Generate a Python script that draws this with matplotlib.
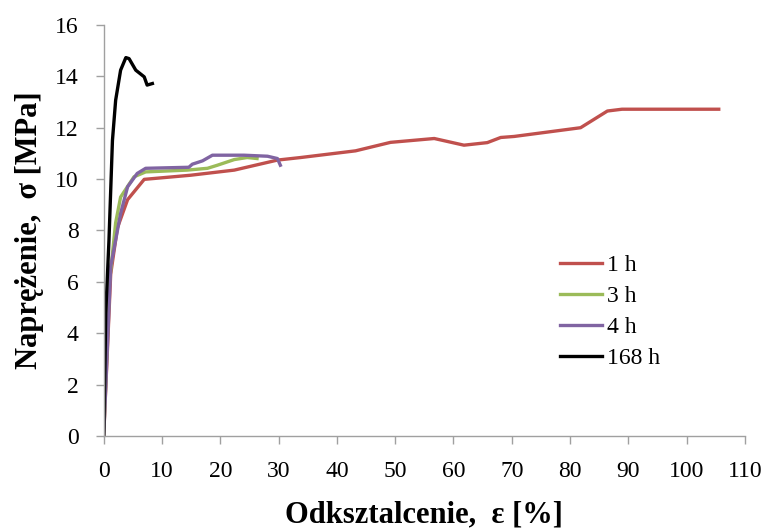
import matplotlib.pyplot as plt

# stress-strain curves for different conditioning times
strain_1h = [0, 1.2, 2.35, 4.1, 6.95, 14.9, 22.4, 29.8, 33.8, 43.2, 49.2, 56.7, 61.8, 65.8,
             68.1, 70.4, 81.8, 86.4, 88.9, 105.5]
stress_1h = [0, 6.3, 8.1, 9.2, 9.99, 10.15, 10.35, 10.74, 10.84, 11.1, 11.43, 11.58, 11.32,
             11.42, 11.62, 11.66, 12.0, 12.65, 12.72, 12.72]

strain_3h = [0, 1.0, 2.05, 2.9, 5.2, 7.2, 14.35, 17.8, 19.5, 22.4, 24.6, 26.3]
stress_3h = [0, 6.0, 8.3, 9.3, 10.09, 10.28, 10.35, 10.42, 10.54, 10.76, 10.84, 10.8]

strain_4h = [0, 1.2, 2.9, 4.1, 5.75, 7.2, 14.6, 15.2, 16.95, 18.65, 24.05, 28.1, 29.8, 30.3]
stress_4h = [0, 6.6, 8.66, 9.7, 10.22, 10.42, 10.46, 10.58, 10.71, 10.93, 10.93, 10.89, 10.8, 10.54]

strain_168h = [0, 0.05, 0.35, 0.9, 1.5, 2.05, 2.9, 3.8, 4.35, 5.5, 6.95, 7.45, 8.35]
stress_168h = [0, 0.36, 4.77, 7.6, 11.5, 13.07, 14.24, 14.73, 14.69, 14.24, 13.98, 13.66, 13.72]

plt.rcParams['font.family'] = ['Liberation Serif', 'DejaVu Serif']

fig = plt.figure(figsize=(7.67, 5.3), dpi=100)
ax = fig.add_axes([0.1352, 0.1774, 0.8361, 0.7755])

lw = 2.4
ax.plot(strain_1h, stress_1h, color='#C0504D', lw=lw, label='1 h')
ax.plot(strain_3h, stress_3h, color='#9BBB59', lw=lw, label='3 h')
ax.plot(strain_4h, stress_4h, color='#8064A2', lw=lw, label='4 h')
ax.plot(strain_168h, stress_168h, color='black', lw=lw, label='168 h')

ax.set_xlim(0, 110)
ax.set_ylim(0, 16)
ax.set_xticks(range(0, 111, 10))
ax.set_yticks(range(0, 17, 2))

for s in ['top', 'right']:
    ax.spines[s].set_visible(False)
for s in ['left', 'bottom']:
    ax.spines[s].set_color('#A0A0A0')
    ax.spines[s].set_linewidth(1.0)
ax.tick_params(colors='#A0A0A0', labelcolor='black', labelsize=17, length=6, width=1)
ax.tick_params(axis='x', pad=12)
ax.tick_params(axis='y', pad=12)

ax.set_xlabel('Odksztalcenie,  ε [%]', fontsize=22, fontweight='bold', labelpad=13)
ax.set_ylabel('Naprężenie,  σ [MPa]', fontsize=22, fontweight='bold', labelpad=8)

ax.legend(loc='upper left', bbox_to_anchor=(0.730, 0.520), bbox_transform=fig.transFigure,
          frameon=False, fontsize=17, handlelength=1.78, handletextpad=0.2,
          labelspacing=0.4, borderpad=0, borderaxespad=0)

fig.savefig('out.png', dpi=100)
